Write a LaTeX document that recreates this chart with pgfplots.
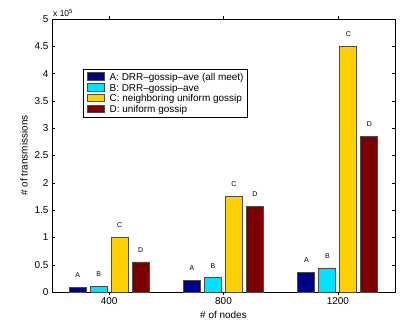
\documentclass[border=0pt]{standalone}
\usepackage{fontspec}
\setmainfont{Liberation Sans}
\usepackage{pgfplots}
\pgfplotsset{compat=1.18}
\definecolor{cA}{RGB}{0,0,140}
\definecolor{cB}{RGB}{0,225,255}
\definecolor{cC}{RGB}{255,208,0}
\definecolor{cD}{RGB}{125,0,0}
\begin{document}
\begin{tikzpicture}
\path[use as bounding box] (0,0) rectangle (405bp,322bp);
\begin{axis}[
  at={(52bp,30bp)}, anchor=south west,
  scale only axis, width=343bp, height=273bp,
  xmin=0.5, xmax=3.5, ymin=0, ymax=5,
  xtick={1,2,3}, xticklabels={400,800,1200},
  ytick={0,0.5,...,5},
  yticklabels={0,0.5,1,1.5,2,2.5,3,3.5,4,4.5,5},
  tick align=inside, tick pos=both,
  major tick length=3bp,
  tick style={black, line width=0.4pt},
  scaled ticks=false,
  /pgf/number format/assume math mode=true,
  ticklabel style={font=\fontsize{10}{11}\selectfont},
  xticklabel style={yshift=1bp},
  xlabel={\# of nodes}, ylabel={\# of transmissions},
  label style={font=\fontsize{10}{11}\selectfont},
  xlabel style={yshift=0bp},
  ylabel style={yshift=0bp},
  ybar=4bp, bar width=17bp,
  axis line style={black, line width=0.6pt},
  legend style={at={(0.09,0.817)}, anchor=north west, draw=black, line width=0.8pt,
    font=\fontsize{10}{11}\selectfont, inner sep=1.8pt, row sep=-2pt,
    cells={anchor=west}},
  legend image code/.code={\draw[#1, line width=0.5pt] (0.05cm,-0.1cm) rectangle (0.67cm,0.17cm);
    \path (0cm,0cm) (0.77cm,0cm);},
  every node near coord/.append style={font=\fontsize{7}{7}\selectfont, black, yshift=6bp},
  clip=false,
]
\addplot[fill=cA, draw=black!70, line width=0.7pt, nodes near coords=A] coordinates {(1,0.086) (2,0.21) (3,0.355)};
\addplot[fill=cB, draw=black!70, line width=0.7pt, nodes near coords=B] coordinates {(1,0.104) (2,0.26) (3,0.44)};
\addplot[fill=cC, draw=black!70, line width=0.7pt, nodes near coords=C] coordinates {(1,1.005) (2,1.75) (3,4.505)};
\addplot[fill=cD, draw=black!70, line width=0.7pt, nodes near coords=D] coordinates {(1,0.55) (2,1.575) (3,2.85)};
\legend{A: DRR--gossip--ave (all meet),B: DRR--gossip--ave,C: neighboring uniform gossip,D: uniform gossip}
\node[anchor=south west, font=\fontsize{8.5}{9}\selectfont, inner sep=0pt] at (rel axis cs:0,1) [xshift=1bp, yshift=2bp] {x 10$^{\mathrm{5}}$};
\end{axis}
\end{tikzpicture}
\end{document}
